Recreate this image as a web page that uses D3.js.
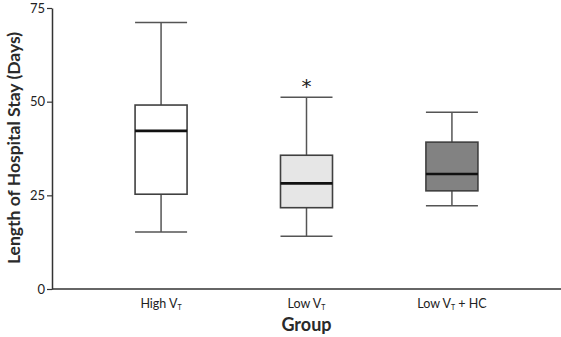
<!DOCTYPE html>
<html><head><meta charset="utf-8">
<script src="https://cdn.jsdelivr.net/npm/d3@7"></script>
<style>body{margin:0;background:#fff}svg{display:block}</style>
</head><body>
<svg id="c" width="561" height="337"></svg>
<script>
const categories = ["High", "Low", "LowHC"];
const labelMain = ["High V", "Low V", "Low V"];
const labelSuffix = ["", "", " + HC"];
const whiskerLow = [15.2, 14.1, 22.2];
const q1 = [25.3, 21.7, 26.2];
const median = [42.2, 28.2, 30.7];
const q3 = [49.1, 35.7, 39.2];
const whiskerHigh = [71.1, 51.2, 47.2];
const fills = ["#ffffff", "#e6e6e6", "#828282"];
const significance = ["", "*", ""];
const yTicks = [0, 25, 50, 75];

const svg = d3.select("#c");
const font = "Lato, 'Open Sans', sans-serif";
const x = d3.scalePoint().domain(categories).range([52, 561]).padding(0.75);
const y = d3.scaleLinear().domain([0, 75]).range([289, 8]);
const bw = 52, cw = 52;

// axes
const yAxis = svg.append("g").attr("transform", "translate(52,0)")
  .call(d3.axisLeft(y).tickValues(yTicks).tickSize(5).tickSizeOuter(0));
yAxis.select(".domain").attr("stroke", "#333").attr("stroke-width", 1.5);
yAxis.selectAll(".tick line").attr("stroke", "#333").attr("stroke-width", 1.2);
yAxis.selectAll(".tick text").attr("font-family", font).attr("font-size", 13).attr("fill", "#222").attr("x", -7);

svg.append("line").attr("x1", 52).attr("x2", 561).attr("y1", y(0)).attr("y2", y(0))
  .attr("stroke", "#333").attr("stroke-width", 1.5);

const g = svg.append("g");
categories.forEach((c, i) => {
  const cx = x(c);
  const gs = g.append("g");
  // whiskers
  gs.append("line").attr("x1", cx).attr("x2", cx).attr("y1", y(whiskerHigh[i])).attr("y2", y(q3[i])).attr("stroke", "#555").attr("stroke-width", 1.5);
  gs.append("line").attr("x1", cx).attr("x2", cx).attr("y1", y(q1[i])).attr("y2", y(whiskerLow[i])).attr("stroke", "#555").attr("stroke-width", 1.5);
  gs.append("line").attr("x1", cx - cw/2).attr("x2", cx + cw/2).attr("y1", y(whiskerHigh[i])).attr("y2", y(whiskerHigh[i])).attr("stroke", "#555").attr("stroke-width", 1.5);
  gs.append("line").attr("x1", cx - cw/2).attr("x2", cx + cw/2).attr("y1", y(whiskerLow[i])).attr("y2", y(whiskerLow[i])).attr("stroke", "#555").attr("stroke-width", 1.5);
  // box
  gs.append("rect").attr("x", cx - bw/2).attr("width", bw).attr("y", y(q3[i])).attr("height", y(q1[i]) - y(q3[i]))
    .attr("fill", fills[i]).attr("stroke", "#404040").attr("stroke-width", 1.6);
  gs.append("line").attr("x1", cx - bw/2).attr("x2", cx + bw/2).attr("y1", y(median[i])).attr("y2", y(median[i])).attr("stroke", "#111").attr("stroke-width", 2.6);
  if (significance[i]) {
    svg.append("text").attr("x", cx).attr("y", y(whiskerHigh[i]) - 4).attr("text-anchor", "middle")
      .attr("font-family", "'DejaVu Sans', sans-serif").attr("font-size", 20).attr("fill", "#222").text(significance[i]);
  }
  const t = svg.append("text").attr("x", cx).attr("y", 308).attr("text-anchor", "middle")
    .attr("font-family", font).attr("font-size", 12.5).attr("fill", "#222");
  t.append("tspan").text(labelMain[i]);
  t.append("tspan").attr("font-size", 7).attr("dy", 2).text("T");
  if (labelSuffix[i]) t.append("tspan").attr("dy", -2).text(labelSuffix[i]);
});

svg.append("text").attr("x", x("Low")).attr("y", 331).attr("text-anchor", "middle")
  .attr("font-family", font).attr("font-weight", "bold").attr("font-size", 18).attr("fill", "#2a2a2a").text("Group");
svg.append("text").attr("transform", "translate(20,148) rotate(-90)").attr("text-anchor", "middle")
  .attr("font-family", font).attr("font-weight", "bold").attr("font-size", 17.5).attr("fill", "#2a2a2a").text("Length of Hospital Stay (Days)");
</script>
</body></html>
